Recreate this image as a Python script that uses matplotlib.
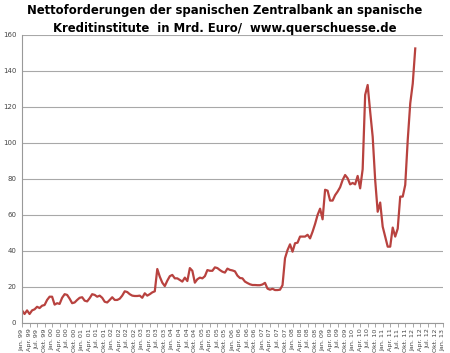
import matplotlib
matplotlib.use("Agg")
import matplotlib.pyplot as plt

# Monthly values, Jan. 99 .. Feb. 12 (Mrd. Euro)
values = [
    7, 5, 7, 5, 7, 7.6, 9, 8.3, 9.6, 10, 12.8, 14.6,          # 1999
    14.6, 10.2, 11, 10.6, 14, 16, 15.6, 13.5, 11, 11.4, 12.8, 14,  # 2000
    14.3, 12.4, 12, 13.8, 16, 15.6, 14.6, 15.2, 14, 11.8, 11.4, 12.8,  # 2001
    14.3, 12.8, 12.8, 13.5, 15.2, 17.6, 17.2, 16, 15.2, 15, 15, 15.2,  # 2002
    14, 16.5, 15.2, 16, 17, 17.6, 30, 25.7, 22.4, 20.5, 23.5, 26,     # 2003
    26.7, 24.8, 24.8, 23.9, 23, 25.2, 23.3, 30.5, 29, 22.4, 24.3, 25.2,  # 2004
    24.8, 26, 29.4, 29, 29, 30.9, 30.5, 29.4, 28.5, 28, 30.2, 29.5,   # 2005
    29.2, 28.7, 26.3, 25, 24.8, 23, 22.2, 21.5, 21.1, 21.1, 21, 21,   # 2006
    21.4, 22.3, 19.1, 18.5, 19, 18.3, 18.3, 18.5, 21, 36, 40.5, 43.7,  # 2007
    39.6, 44.3, 44.6, 48, 48, 48, 49, 47, 50.7, 55, 60, 63.5,          # 2008
    57.6, 74, 73.5, 68, 68, 71, 73, 75.4, 79.4, 82.2, 80.4, 77,        # 2009
    77.8, 77, 81.7, 74.8, 85.4, 126.7, 132.2, 117.4, 103.5, 79.4, 61.8, 66.9,  # 2010
    53.5, 48, 42.4, 42.4, 53, 48, 52.4, 70.2, 70.2, 76.7, 101.7, 122,  # 2011
    133, 152.5,                                                        # 2012
]

months = ["Jan.", "Apr.", "Jul.", "Okt."]
years = ["99", "00", "01", "02", "03", "04", "05", "06", "07", "08", "09", "10", "11", "12"]
tick_labels = [f"{m} {y}" for y in years for m in months] + ["Jan. 13"]

title = ("Nettoforderungen der spanischen Zentralbank an spanische\n"
         "Kreditinstitute  in Mrd. Euro/  www.querschuesse.de")

fig = plt.figure(figsize=(4.5, 3.53), dpi=100)
ax = fig.add_axes([0.049, 0.085, 0.935, 0.816])

ax.plot(range(len(values)), values, color="#b8423f", lw=1.6, solid_joinstyle="round")

ax.set_xlim(0, 3 * (len(tick_labels) - 1))
ax.set_ylim(0, 160)
ax.set_yticks(range(0, 161, 20))
ax.set_xticks(range(0, 3 * len(tick_labels), 3))
ax.set_xticklabels(tick_labels, rotation=90, fontsize=4.6, color="#444444")
ax.tick_params(axis="y", labelsize=5, colors="#444444", length=0, pad=4)
ax.tick_params(axis="x", length=3, width=0.6, color="#999999", pad=1)

ax.grid(axis="y", color="#a8a8a8", lw=0.8)
ax.set_axisbelow(True)
for s in ["top", "right"]:
    ax.spines[s].set_visible(False)
for s in ["left", "bottom"]:
    ax.spines[s].set_color("#999999")
    ax.spines[s].set_linewidth(0.8)

fig.text(0.5, 0.99, title, ha="center", va="top", fontsize=8.4,
         fontweight="bold", linespacing=1.5)

fig.savefig("out.png", dpi=100)
